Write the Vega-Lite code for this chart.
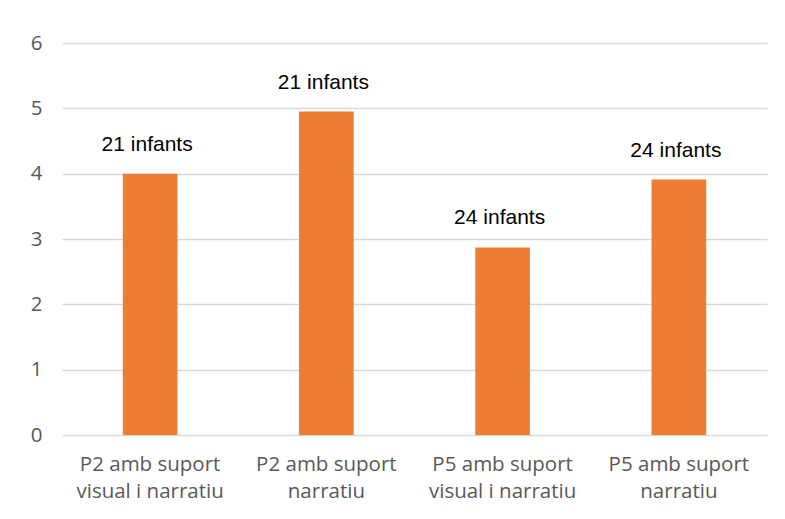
{
  "$schema": "https://vega.github.io/schema/vega-lite/v6.json",
  "width": 705,
  "height": 392,
  "autosize": {"type": "none"},
  "padding": {"left": 62, "top": 43, "right": 18, "bottom": 84},
  "background": "white",
  "config": {"view": {"stroke": null}},
  "data": {
    "values": [
      {"grup": "P2 amb suport|visual i narratiu", "valor": 4.0, "etiqueta": "21 infants"},
      {"grup": "P2 amb suport|narratiu", "valor": 4.95, "etiqueta": "21 infants"},
      {"grup": "P5 amb suport|visual i narratiu", "valor": 2.87, "etiqueta": "24 infants"},
      {"grup": "P5 amb suport|narratiu", "valor": 3.91, "etiqueta": "24 infants"}
    ]
  },
  "encoding": {
    "x": {
      "field": "grup",
      "type": "nominal",
      "sort": null,
      "scale": {"paddingInner": 0.69, "paddingOuter": 0.345},
      "axis": {
        "title": null,
        "labelAngle": 0,
        "labelExpr": "split(datum.value, '|')",
        "labelFont": "Open Sans",
        "labelFontSize": 20.5,
        "labelColor": "#595959",
        "labelLineHeight": 27,
        "labelPadding": 19,
        "ticks": false,
        "domain": false,
        "grid": false
      }
    },
    "y": {
      "field": "valor",
      "type": "quantitative",
      "scale": {"domain": [0, 6], "nice": false},
      "axis": {
        "title": null,
        "values": [0, 1, 2, 3, 4, 5, 6],
        "labelFont": "Open Sans",
        "labelFontSize": 20.5,
        "labelColor": "#595959",
        "labelPadding": 20,
        "ticks": false,
        "domain": false,
        "grid": true,
        "gridColor": "#d9d9d9",
        "gridWidth": 1.3
      }
    }
  },
  "layer": [
    {"mark": {"type": "bar", "color": "#ED7D31"}},
    {
      "mark": {
        "type": "text",
        "font": "Liberation Sans",
        "fontSize": 21,
        "color": "#000000",
        "baseline": "middle",
        "dy": -29,
        "dx": -3
      },
      "encoding": {"text": {"field": "etiqueta"}}
    }
  ]
}
